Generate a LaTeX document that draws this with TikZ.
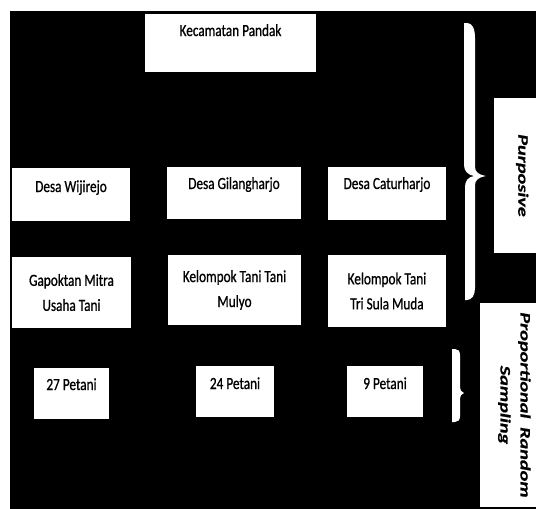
\documentclass[tikz,border=0pt]{standalone}
\usepackage{fontspec}
\newfontfamily\boxfont[FakeStretch=0.78,FakeBold=0.8]{Carlito}
\newfontfamily\sidefont[FakeStretch=1.4,FakeBold=0.8]{Carlito}
\begin{document}
\begin{tikzpicture}[x=1pt,y=-1pt,
  box/.style={fill=white, draw=none, inner sep=0pt, align=center,
    font=\boxfont\fontsize{17}{25}\selectfont},
  sidebox/.style={fill=white, draw=none, inner sep=0pt, align=center, rotate=-90,
    font=\sidefont\bfseries\itshape\fontsize{14.5}{20}\selectfont},
  bracefill/.style={fill=white}
]
\useasboundingbox (0,0) rectangle (536,509);
\fill[white] (0,0) rectangle (536,509);
\fill[black] (10,11) rectangle (536,509);

% top
\node[box, minimum width=171pt, text height=22pt, text depth=36pt] (kec) at (230.5,43) {Kecamatan Pandak};

% villages
\node[box, minimum width=118pt, text height=24pt, text depth=29pt] (wij) at (71,194.5) {Desa Wijirejo};
\node[box, minimum width=134pt, text height=22pt, text depth=30pt] (gil) at (234,193) {Desa Gilangharjo};
\node[box, minimum width=118pt, text height=22pt, text depth=31pt] (cat) at (387,193.5) {Desa Caturharjo};

% groups
\node[box, minimum width=119pt, minimum height=71pt] (gap) at (71.5,292.5) {Gapoktan Mitra\\Usaha Tani};
\node[box, minimum width=133pt, minimum height=70pt] (mul) at (234.5,290) {Kelompok Tani Tani\\Mulyo};
\node[box, minimum width=118pt, minimum height=72pt] (tri) at (387,291) {Kelompok Tani\\Tri Sula Muda};

% farmers
\node[box, minimum width=75pt, text height=22pt, text depth=29pt] (p27) at (71.5,393.5) {27 Petani};
\node[box, minimum width=78pt, text height=23pt, text depth=28pt] (p24) at (235,391.5) {24 Petani};
\node[box, minimum width=76pt, text height=23pt, text depth=28pt] (p9) at (385,391.5) {9 Petani};

% side labels
\node[sidebox, minimum width=155pt, text height=17.7pt, text depth=24.3pt] (purp) at (515,175.5) {Purposive};
\node[sidebox, minimum width=204pt, text height=35.5pt, text depth=20.5pt] (prop) at (508,405) {Proportional\hspace{4pt} Random\\Sampling};

% big brace
\fill[bracefill] (464,23) -- (467,23) .. controls (472,23) and (475,28) .. (475,38)
  -- (475,167) .. controls (475,172) and (479,175) .. (486,176)
  .. controls (479,177) and (475,180) .. (475,185)
  -- (475,288) .. controls (475,295) and (472,300) .. (467,300)
  -- (465,300) -- (465,187) .. controls (465,181) and (468,177) .. (474,176)
  .. controls (468,175) and (464,171) .. (464,165) -- cycle;

% small brace
\fill[bracefill] (452,349) -- (455,349) .. controls (458,349) and (460,351) .. (460,355)
  -- (460,387) .. controls (460,390) and (461,392) .. (464,393)
  .. controls (461,394) and (460,396) .. (460,399)
  -- (460,416) .. controls (460,420) and (458,422) .. (455,422)
  -- (452,422) -- cycle;
\end{tikzpicture}
\end{document}
